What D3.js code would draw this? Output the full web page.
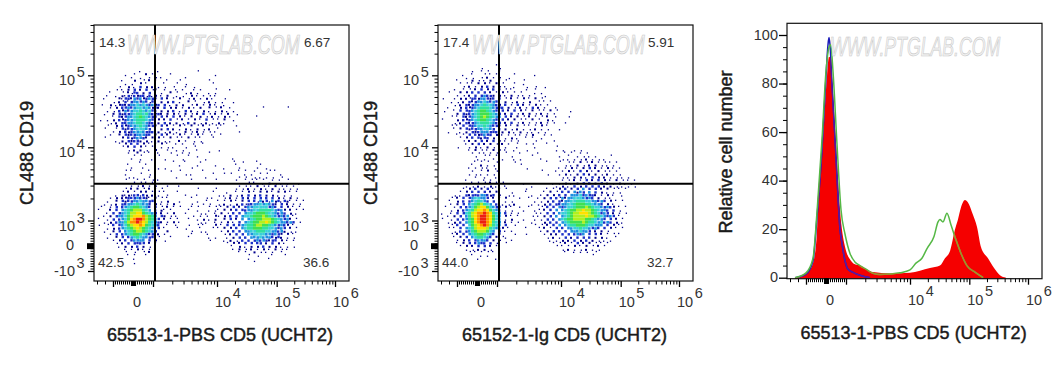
<!DOCTYPE html>
<html>
<head>
<meta charset="utf-8">
<script src="https://cdn.jsdelivr.net/npm/d3@7"></script>
<style>
body { margin: 0; background: #fff; }
text { font-family: Arial, "Liberation Sans", sans-serif; }
</style>
</head>
<body>
<svg id="chart" width="1063" height="365"></svg>
<script>
// density cells, 85 x 85 bins
// . empty, 1-2 lone dots, 3-7 blue to green, 8-9 yellow, A orange, B red
var cd5PbsRows = [
"","","","","","","","","","","","","","","",
"...............1.....1............1",
"..........1..1...2.1.....1..............1",
"............1..1..1.1.1.......1",
".........1...2..1.2.1...1...1.........1",
"..........1.1..2.1..2..1...1..1........1",
"........1..2.1.3.2.2.1.1..1...1..1",
".......1.1.2.3.2.3.12..1...1.1...1.1....1....1",
".....1...1.2133.2.3.2.1..2.1..1.2.1...1.1",
"....1..1.213132331312.1.2..1.1..2.1.1.1.1",
"...1....2133243423432.3.2.1.2..1.2.1.2.1...1",
"......1.2131344343132.2.2.3.1..2.1..1.2.1.1...1",
"..1..2.123234454543423.3.1.2.2..1.2.1.2.1..1",
".....1.2.3343455454232.3.2.2.1.2.1.2..2.1.2..1..........1.......1",
"....1.1.3243455654533.2.2.3.1.3.2.1.2.1.1.2.1.1",
"...1..2.323345665643132.2.2.1.2.1.2.3.1.2.1.2..1",
"......1.3234456765433.3.2.3.2.1.2..2.1.2.1.2.1........1",
"..1.1.2.323445666543.2.2.3.1.2.1.2.1.3.1.1.2..1",
".....1.2.33445665433.2.3.2.2.1.3.2.1.2.1.2.1",
"....1..2.323445654332.3.2.1.2.1.2.1.2.1.1.1....1",
"...1...1.3233455543.2.2.3.2.1.2.1.2.1.2..1",
"......1.2.3234454333.2.1.2.1..2.1.2.1.1.1.......1",
".....1..2.323344433.2.3.2.1.2.1.1.2.1..1..1",
"...1.....2.3234432.2.2.1.2.1.1.2.1.1...1",
".......1.2.32332.2.1.2.1.1..2.1..1.1",
"........1.2.3.3.2.1.1.2.1..1.1...1..1",
".........1.2.3.2.1.1..1.1.1...1..1",
"...........1.2.2.1..2...1..1.1....1......1",
"...........1..2.1.1..1...1...1.1......1",
".............1.1.....1.....1...1..1",
"............1..1...1...1.....1.......1........1",
"...............1..........1...1....1..........1..1....1",
"...........1.....1..1.......1.....1.....1......1.......1",
"............1...1....1.1........1..........1....1.....1..1",
"..........1.1.....1......1..1.......1...........1.1..1....1.1",
"..........1....1..1.1.........1.1......1...1.1....1.1..1.1....1",
"...........1.1....1........1.........1..........1.1..1.1.1.1..1",
"..........1...1.1..1.1..........1.......1......1..1.1.1.1..1.1..1",
".............1.1.1.1...............................1.1..1.2.1.1.1...1",
"............1.1.2.1.1...1...1...................1.1.1.2.1.1.2.1.1.1",
"..........1.2.2.1.2.1.1...........1.....1......1.1.2.1.2.1.2.1.1.1.1",
".........1.2.1.2.2.1.1.1...1...........1....1..1.1.2.1.2.2.1.2.2.1.1",
".......1.212133132.2.1..1.....1...1......1.1.2.1.2.3.2.3.2.2.1.1.1",
".....1.2.2233343321.2.1.1.......1....1.1...1.2.1.3.2.3.3.3.3.2.1.2.1",
"....1..2.323344544332.1.2...1.....1..1...1.1.2.1.2.3.3142314231321.1.1",
"...1.1.2.3344565443.2.1.1.2.....1...1.1..1.2.1.2.313344545432.3.2.1.1.",
"..1..1.3.3456776543.3.1.2.1.1...1.1...1.1.1.2.3.2.34455555343.3.2.1.1.",
".1...2.3.4567888654.3.21.1.....1..1...1.11.2.2.3.334455666654342.2.1.1",
"....1.3.3456889976543.2.1.2...1....1.1..1.2.1.3.3.45567776554343.2.1.",
"...1.2.344578999A8764.32.1.1.....1.1.1..21.2.3.3.4556777876543434.1.",
".1..1.3.34579ABBA87643.2.1.1...1..1.2.1.2..2.3.2.4.456778887654342.1.",
"...1.2.34468AABA9865432.1.2.1......1.1..1.1.2.1.3.45677889876544343.1",
".1..1.3.3457899A976543..1..1...1..1.1...2.1.3.3.34566788776543432.1.",
"....1.2.345678987654.3.1...1..1....1...1.1.2.2.3.456677766554343.2.1",
"...1..2.3.45678876543...2.......1..1.1....1.2.3.3.44556665544342.1.1.",
".....1.3.34567765433.2.1........1....1.....1.2.3.3.445555443432.2.1",
"....1..2.3.345654433.1...1.....1......1.1...1.2.3.3.44454443232.1.1",
"......1.2.3.34444.3.2..1..............1....1.2.1.3.3.34343233.2.1.1",
".......1.2.3.3333.2.1.......................1.2.2.3.3.33.2.3.2.1",
"........1.2.2.3.2.1..........................1..2.1.2.2.3.2.2.1.1.1",
"..........1.1.2.1.1...........................1.2.1.2.1.2.1.2.1.1",
"..........1..1..1.2.............................1.1..2.1.1.1..1",
"...........1.1...1.................................1..1....1...1",
".............1.....................................1......1",
".........1...........................................1",
".............1"
];
var cd5IgRows = [
"","","","","","","","","","","","","",
"...................1",
"..............1.....1",
"...........1..1.1...1",
"........1..1...1.1.1.....1......1",
".........1.1..1.2.1.1..1",
"......1....2.1.1.2..1.1.....1",
".......1.1.1.2.2.1.2.1...1..1",
"........1.2.1.2.3.2.1.1..1...1..1..1",
".....1..1.1.2.3.2.3.2.1.1....1..1",
"...1...2.2.3.3.3.2.1.2.1.1.1....1.1",
"......1.1.2.3.34332.2.1.2.1.1.1....1",
".1...1.2.2133244323.3.1.2.1.2.1.2.1",
"....1.1.2.32344543432.2.1.2.1.2..1.1.1",
".....1.2.323445655432.3.1.3.2.1.2.1.1",
"...1...2.3234566654333.2.1.2.1.3.2.1...1",
"..1..1.3.33456776543.3.2.3.2.1.2.1.1.2.1....1",
"......2.3234567776543.2.3.1.2.2.1.2.1.1",
"....1.1.3234567876544.3.2.2.1.2.1.1.2..1...1",
".1....2.323456776543.3.2.2.1.1.2.1..2.1",
".....1.2.323456665433.2.3.1.2.1.1.2.1.1...1",
"....1.1.3.33455654332.2.1.2.1.1.1.2.1",
".....1.2.3233445543.3.2.1.2.1.1.2.1.1...1",
"...1...1.2.323444333.2.2.1.2.1.1.1.1",
"......1.1.3.323433.2.1.1.1.1.1.2...1.1",
".......1.2.3.3233.2.2.1.2.1..1.1..1",
"........1.2.2.3.2.3.1.1.1.1.....1.....1",
".........1.2.3.2.2.1.2.1..1..1.1....1",
"......1...1.2.1.2.1.1.1...1.....1......1",
"..........1.2.1.1.2.1.1..1...1.........1.1...1.1",
"...........1.1.1.1.1..1....1.....1........1.1..1.1",
"............1..1.1.1....1......1........1..1..1.1.1.1....1",
".............1.1..1..1...1.1......1......1.1.1.1.2.1.1.1",
"............1.1.1..1.....1..........1...1..1.1.2.1.2.1.1.1.1",
"...........1..2.1.1........1..............1.1.2.1.2.2.1.1.1",
"..........1.1.1.1..1.........1..........1.1.2.1.2.3.2.1.2.1.1",
"...........1..1.2..1..............1....1.1.2.1.3.2.1.2.1.1.1",
"..........1.1.1.1.1.................1...1.2.1.2.3.2.2.1.2.1.1",
"............1..1...1.....................1.1.2.2.1.3.2.2.1.1.1.1",
".........1.....1.1.......................1.1.2.1.3.2.3.2.1.2.1.1.1",
"...........1.1.1.2.1.1......1.........1.1.2.1.2.3.3.2.3.2.1.2.1.1",
".........1.1.2.1.2.1..1........1.......1.2.1.3.2.3.3.3.2.2.1.1.1.1",
"........1.2.3.2.3.1.1.1......1......1.1.2.3.2.3.4.3.3.2.2.1.1.1",
".......1.2.3.3.3.2.2....1....1.....1.2.1.3.3.4243.4.3.2.1.1.1",
".....1.1.3233344323.1..1.1.....1..1.2.2.3.3.444534332.1.2.1..1",
"....1.2.3.3455443.2.1.2....1..1..1.2.3.3142445554343.2.1.1",
"...1..2.3.3456543.3.1.1.1.......1.1.2.3.3244556665544343.2.1.1",
"....1.2.3.45678654.3.1.1.2.....1.1.2.3.3344556777665443.2.1",
"..1..1.3.345789975433.2.1..1..1...1.3.3.4345567778765543432.1.1",
"....1.2.3456899A97543.1.1...1...11.2.3.4.4567788988765443.3.1",
".1..1.3.35689AABA9654.3.1.1.....1.1.3.3.45567889998765343.2.1.1",
"...1.2.3.4689ABBA9754.2.1.1....1.1.2.3.4.456788889887654343.1",
".1..1.3.34679ABBA9754.1.2...1...1.1.3.3.4567788887765443.3.2.1",
"...1.2.3.4679ABBA9654.2.1.1....1...2.3.3.45677778766545343.2.1",
"....1.3.3.5789ABA8654.3..1......1.1.2.3.4.4566777655444.3.2.1",
"...1.1.3.4568999865432.1.....1...1.2.1.3.3.44556554343.3.2.1.1",
".....1.3.3467888754.3.1.1.........1.2.3.3.3.4445443.2.2.1",
"....1.2.3.456776543.2....1...1.....1.2.2.3.3.3434.3.3.2.1.1.1",
".....1.2.3.4566543.2.11.............1.2.1.3.2.3.3.3.2.2.1..1",
"......1.2.3.34443.2.1...1............1.1.2.2.3.2.3.2.1.1.1",
"......1.2.3.3433.3.1..1...............1.1.2.1.3.2.2.1.1.1",
".......1.2.2.3.3.2.1...................1.1.1.2.1.2.1.2.1",
".........1.1.2.2.1.......................1.2.1.1.2.1.1",
"..........1.1.1.1.1.......................1..1.1.1..1",
"...........1..1.1..................................1",
".............1.....1"
];

// histogram of CD5, x in fluorescence units, y in % of max
var redX = [-1550,-1450,-950,-650,-465,-400,-165,50,150,250,300,500,700,950,1230,1380,1650,2050,2640,4870,10000,21700,32000,38900,47300,57500,64400,72500,84500,95000,115000,135000,158000,208000,264000,333000,422000];
var redY = [0,0,2,6,17,28,55,83,91,90,83,55,28,12.8,6.6,5.5,5,3.5,2.3,1.7,2,4,5,8,11,20,24,29,32,31,26,21,12.6,8,4,1,0];
var blueX = [-1550,-1000,-650,-450,-200,0,100,150,200,300,500,700,800,950,1075,1290,1650,2370];
var blueY = [0,1.5,7,25,53,83,96,99,96,80,50,20,14,7,3.5,2.2,1,0];
var greenX = [-1550,-1000,-650,-450,-200,0,150,235,350,550,750,950,1155,1380,1650,2050,2640,3400,4870,6990,10000,12600,15900,19350,25400,29700,32000,36000,42000,49200,59800,72500,91000,125000,172000];
var greenY = [0,2,8,27,57,85,95,96,85,55,28,18,10,6.5,5,3.5,1.8,1.3,1.5,2,3.2,6,8,12,17,23,24,23,26.6,21.7,15.5,10,5,2.3,0];

// quadrant percentages: upper left, upper right, lower left, lower right
var quadPbs = ["14.3", "6.67", "42.5", "36.6"];
var quadIg = ["17.4", "5.91", "44.0", "32.7"];
var histYTicks = [0, 20, 40, 60, 80, 100];
var decadeTicks = [1e4, 1e5, 1e6];

var svg = d3.select("#chart");
var tickColor = "#333";

// minor ticks of the log part: 2..9 x 10^k
function logMinors(from, to){
	var out = [];
	for(var k = from; k < to; k++){
		for(var m = 2; m < 10; m++) out.push(m * Math.pow(10, k));
	}
	return out;
}
var lowMinors = d3.range(-900, 901, 100).filter(function(d){ return d != 0; });
var zeroBlock = d3.range(-90, 91, 10);

function tickSet(g, axisFn, scale, values, size, width){
	g.append("g").call(axisFn(scale).tickValues(values).tickSize(size).tickFormat(""))
		.call(function(a){ a.select(".domain").remove(); })
		.selectAll("line").attr("stroke", "#000").attr("stroke-width", width);
}

function sup(g, base, exp, x, y, expDy){
	var t = g.append("text").attr("x", x).attr("y", y).attr("font-size", 14.5).attr("fill", tickColor).text(base);
	t.append("tspan").attr("dx", 1.5).attr("dy", expDy).text(exp);
}

// x axis shared by the three panels, biexponential: linear below 10^3, log above
function makeX(one, dec4, dec5, dec6, neg){
	var lin = d3.scaleLinear().domain([-1000, 1000]).range([neg, one]);
	var log = d3.scaleLog().domain([1e3, 1e4, 1e5, 1e6]).range([one, dec4, dec5, dec6]);
	var f = function(v){ return v <= 1000 ? lin(v) : log(v); };
	f.lin = lin; f.log = log;
	return f;
}

function drawXAxis(g, x, bottom, zeroLabelX, labelY){
	var ax = g.append("g").attr("transform", "translate(0," + bottom + ")");
	tickSet(ax, d3.axisBottom, x.log, logMinors(3, 6), 3.5, 1);
	tickSet(ax, d3.axisBottom, x.lin, lowMinors, 3.5, 1);
	tickSet(ax, d3.axisBottom, x.lin, [-1800, -1400], 3.5, 1);
	tickSet(ax, d3.axisBottom, x.lin, zeroBlock, 5, 1.5);
	tickSet(ax, d3.axisBottom, x.lin, [-1000, 1000], 6, 1.3);
	tickSet(ax, d3.axisBottom, x.log, [1e4, 1e5, 1e6], 6, 1.3);
	g.append("text").attr("x", zeroLabelX).attr("y", labelY).attr("text-anchor", "middle")
		.attr("font-size", 14.5).attr("fill", tickColor).text("0");
	decadeTicks.forEach(function(d){
		sup(g, "10", Math.log10(d), x.log(d) - 2, labelY, -9);
	});
}

function drawFrame(g, x0, x1, y0, y1){
	g.append("rect").attr("x", x0).attr("y", y0).attr("width", x1 - x0).attr("height", y1 - y0)
		.attr("fill", "none").attr("stroke", "#111").attr("stroke-width", 1.2);
}

function watermark(g, x, y, xScale){
	g.append("text").attr("transform", "translate(" + x + "," + y + ") scale(" + xScale + ",1)")
		.attr("font-size", 27).attr("font-style", "italic").attr("fill", "#f4f4f4")
		.attr("stroke", "#c8c8c8").attr("stroke-width", 0.7).text("WWW.PTGLAB.COM");
}

function axisTitles(g, xTitle, xCenter, xBase, yTitle, yBase, yCenter){
	g.append("text").attr("x", xCenter).attr("y", xBase).attr("text-anchor", "middle")
		.attr("font-size", 18).attr("fill", "#1a1a1a").attr("stroke", "#1a1a1a").attr("stroke-width", 0.45).text(xTitle);
	g.append("text").attr("transform", "translate(" + yBase + "," + yCenter + ") rotate(-90)")
		.attr("text-anchor", "middle").attr("font-size", 18)
		.attr("fill", "#1a1a1a").attr("stroke", "#1a1a1a").attr("stroke-width", 0.45).text(yTitle);
}

var levels = ["1", "2", "3", "4", "5", "6", "7", "8", "9", "A", "B"];
var cellColor = d3.scaleOrdinal(levels, ["#00008c", "#00008c", "#1c30c8", "#1e90e0", "#38d0d8", "#30e0a0", "#40e050", "#b0f020", "#ffe000", "#ff9000", "#ee2010"]);
var cellSize = d3.scaleOrdinal(levels, [1.3, 2, 2.4, 2.6, 2.8, 3, 3, 3, 3, 3, 3]);
var cellOffset = d3.scaleOrdinal([0, 1, 2], [0, 0.5, 1]);

function drawDotPlot(rows, quad, xTitle, opts){
	var g = svg.append("g");
	var x0 = opts.x0, x1 = x0 + 255, y0 = 25, y1 = 281;
	var col = d3.scaleBand().domain(d3.range(85)).range([x0, x1]);
	var row = d3.scaleBand().domain(d3.range(85)).range([y0, y1]);
	var cells = [];
	rows.forEach(function(s, r){
		s.split("").forEach(function(ch, c){
			if(ch != ".") cells.push({r: r, c: c, v: ch});
		});
	});
	// a small dot sits at a fixed spot inside its bin, only so the bin lattice doesn't show
	g.selectAll("rect.cell").data(cells).enter().append("rect")
		.attr("class", "cell")
		.attr("x", function(d){ return col(d.c) + cellOffset((d.c * 5 + d.r * 2) % 3) * (3 - cellSize(d.v)); })
		.attr("y", function(d){ return row(d.r) + cellOffset((d.r * 5 + d.c * 4 + (d.c >> 1)) % 3) * (3 - cellSize(d.v)); })
		.attr("width", function(d){ return cellSize(d.v); })
		.attr("height", function(d){ return cellSize(d.v); })
		.attr("fill", function(d){ return cellColor(d.v); });

	var x = makeX(x0 + 59, x0 + 123, x0 + 182.7, x0 + 241, x0 + 19);
	// y: linear from -10^3 to 10^3, log above
	var yLin = d3.scaleLinear().domain([-1000, 1000]).range([271, 220.5]);
	var yLog = d3.scaleLog().domain([1e3, 1e4, 1e5]).range([220.5, 147.3, 75.3]);

	drawFrame(g, x0, x1, y0, y1);
	var ay = g.append("g").attr("transform", "translate(" + x0 + ",0)");
	tickSet(ay, d3.axisLeft, yLog, logMinors(3, 5).concat(d3.range(2e5, 6e5, 1e5)), 3.5, 1);
	tickSet(ay, d3.axisLeft, yLin, lowMinors, 3.5, 1);
	tickSet(ay, d3.axisLeft, yLin, zeroBlock, 7, 1.2);
	tickSet(ay, d3.axisLeft, yLin, [-1000, 1000], 6, 1.3);
	tickSet(ay, d3.axisLeft, yLog, [1e4, 1e5], 6, 1.3);
	drawXAxis(g, x, y1, x0 + 43, 307);

	// quadrant gates
	g.append("line").attr("x1", x0 + 61).attr("x2", x0 + 61).attr("y1", y0).attr("y2", y1).attr("stroke", "#000").attr("stroke-width", 2);
	g.append("line").attr("x1", x0).attr("x2", x1).attr("y1", 183.7).attr("y2", 183.7).attr("stroke", "#000").attr("stroke-width", 2);

	// y labels
	var lx = x0 - 35;
	[1e5, 1e4, 1e3].forEach(function(d){
		sup(g, "10", Math.log10(d), lx, yLog(d) + 10, -8);
	});
	g.append("text").attr("x", x0 - 24).attr("y", 250).attr("font-size", 14.5).attr("fill", tickColor).attr("text-anchor", "middle").text("0");
	sup(g, "-10", "3", lx - 5, yLin(-1000) + 5, -8);

	var lab = [[x0 + 5, 47], [x0 + 210, 47], [x0 + 4, 267], [x0 + 209, 267]];
	quad.forEach(function(t, i){
		g.append("text").attr("x", lab[i][0]).attr("y", lab[i][1]).attr("font-size", 13.5).attr("fill", tickColor).text(t);
	});
	watermark(g, x0 + opts.markDx, 54, 0.665);
	axisTitles(g, xTitle, opts.titleX, 341, "CL488 CD19", x0 - 61, 153);
}

drawDotPlot(cd5PbsRows, quadPbs, "65513-1-PBS CD5 (UCHT2)", {x0: 94, markDx: 33, titleX: 220});
drawDotPlot(cd5IgRows, quadIg, "65152-1-Ig CD5 (UCHT2)", {x0: 438, markDx: 34, titleX: 564.6});

function drawHistogram(){
	var g = svg.append("g");
	var x0 = 787, x1 = 1042, y0 = 23.3, y1 = 278.7;
	var x = makeX(846, 910, 969.3, 1028, 806);
	var y = d3.scaleLinear().domain([0, 100]).range([277.7, 35]);
	var zip = function(xs, ys){ return xs.map(function(v, i){ return [v, ys[i]]; }); };
	var area = d3.area().curve(d3.curveMonotoneX).x(function(d){ return x(d[0]); }).y0(y1).y1(function(d){ return y(d[1]); });
	var line = d3.line().curve(d3.curveMonotoneX).x(function(d){ return x(d[0]); }).y(function(d){ return y(d[1]); });
	var red = zip(redX, redY), blue = zip(blueX, blueY), green = zip(greenX, greenY);

	g.append("clipPath").attr("id", "redClip").append("path").attr("d", area(red));
	g.append("path").attr("d", area(red)).attr("fill", "#f50000");
	g.append("path").attr("d", line(blue)).attr("fill", "none").attr("stroke", "#1a1ab8").attr("stroke-width", 1.5);
	g.append("path").attr("d", line(blue)).attr("fill", "none").attr("stroke", "#5a18a0").attr("stroke-width", 1.5).attr("clip-path", "url(#redClip)");
	g.append("path").attr("d", line(green)).attr("fill", "none").attr("stroke", "#55b845").attr("stroke-width", 1.5);
	g.append("path").attr("d", line(green)).attr("fill", "none").attr("stroke", "#a88c28").attr("stroke-width", 1.5).attr("clip-path", "url(#redClip)");

	drawFrame(g, x0, x1, y0, y1);
	var ay = g.append("g").attr("transform", "translate(" + x0 + ",0)");
	tickSet(ay, d3.axisLeft, y, d3.range(5, 100, 5), 4, 1);
	tickSet(ay, d3.axisLeft, y, histYTicks, 8, 1.3);
	histYTicks.forEach(function(d){
		g.append("text").attr("x", 778).attr("y", y(d) + 4.5).attr("text-anchor", "end")
			.attr("font-size", 14.5).attr("fill", tickColor).text(d);
	});
	drawXAxis(g, x, y1, 830, 305);
	watermark(g, 830, 56, 0.655);
	axisTitles(g, "65513-1-PBS CD5 (UCHT2)", 913.6, 339, "Relative cell number", 732, 152);
}
drawHistogram();
</script>
</body>
</html>
